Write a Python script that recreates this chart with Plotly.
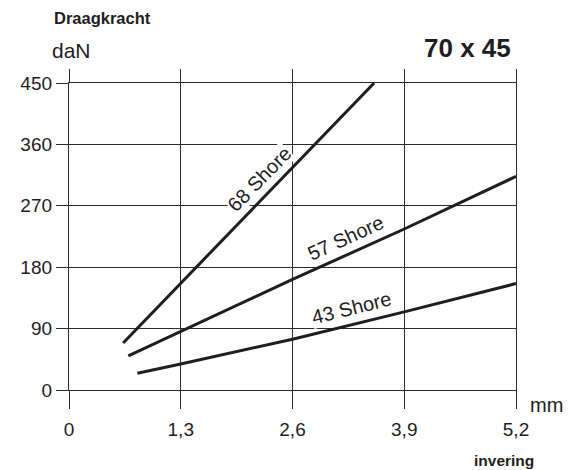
import plotly.graph_objects as go

# ---- data ----
x_ticks = [0, 1.3, 2.6, 3.9, 5.2]
x_tick_labels = ["0", "1,3", "2,6", "3,9", "5,2"]
y_ticks = [0, 90, 180, 270, 360, 450]
y_tick_labels = ["0", "90", "180", "270", "360", "450"]

shore68_x = [0.63, 3.55]
shore68_y = [69, 450]
shore57_x = [0.69, 1.3, 2.6, 3.9, 5.2]
shore57_y = [50, 86, 162, 236, 313]
shore43_x = [0.795, 1.3, 2.6, 3.9, 5.2]
shore43_y = [24.5, 38, 74.5, 114.5, 156]

series = [
    ("68 Shore", shore68_x, shore68_y),
    ("57 Shore", shore57_x, shore57_y),
    ("43 Shore", shore43_x, shore43_y),
]
# label positions (data coords) and angles
label_pos = {"68 Shore": (2.217, 309, -45.7),
             "57 Shore": (3.214, 223, -24.6),
             "43 Shore": (3.285, 120, -14)}

FONT = "Liberation Sans, Arial, sans-serif"
INK = "#1e1e1e"
GRID = "#2a2a2a"

fig = go.Figure()
for name, xs, ys in series:
    fig.add_trace(go.Scatter(x=xs, y=ys, mode="lines", name=name,
                             line=dict(color=INK, width=3), showlegend=False,
                             hoverinfo="skip"))
# invisible trace to activate top axis
fig.add_trace(go.Scatter(x=[0, 5.2], y=[0, 0], xaxis="x2", mode="markers",
                         marker=dict(opacity=0), showlegend=False, hoverinfo="skip"))

for name, (lx, ly, ang) in label_pos.items():
    fig.add_annotation(x=lx, y=ly, xref="x", yref="y", text=name, showarrow=False,
                       textangle=ang, font=dict(family=FONT, size=20, color=INK),
                       bgcolor="white", borderpad=0, xanchor="center", yanchor="middle")

# page body has an 8px margin -> plot area at screen x 65..516, y 83..390
PX0, PX1, PY0, PY1 = 65, 516, 83, 390
def px(x):
    return (x - PX0) / (PX1 - PX0)
def py(y):
    return (PY1 - y) / (PY1 - PY0)

fig.add_annotation(x=px(99), y=py(18), xref="paper", yref="paper",
                   text="<b>Draagkracht</b>", showarrow=False,
                   font=dict(family=FONT, size=16.5, color=INK),
                   xanchor="center", yanchor="middle")
fig.add_annotation(x=px(67.5), y=py(50.5), xref="paper", yref="paper",
                   text="daN", showarrow=False,
                   font=dict(family=FONT, size=21, color=INK),
                   xanchor="center", yanchor="middle")
fig.add_annotation(x=px(466.7), y=py(47.8), xref="paper", yref="paper",
                   text="<b>70 x 45</b>", showarrow=False,
                   font=dict(family=FONT, size=26, color=INK),
                   xanchor="center", yanchor="middle")
fig.add_annotation(x=px(547), y=py(404.5), xref="paper", yref="paper",
                   text="mm", showarrow=False,
                   font=dict(family=FONT, size=20, color=INK),
                   xanchor="center", yanchor="middle")
fig.add_annotation(x=px(504), y=py(460), xref="paper", yref="paper",
                   text="<b>invering</b>", showarrow=False,
                   font=dict(family=FONT, size=15.5, color=INK),
                   xanchor="center", yanchor="middle")

fig.update_layout(
    width=572, height=462,
    margin=dict(l=57, r=64, t=75, b=80),
    paper_bgcolor="white", plot_bgcolor="white",
    font=dict(family=FONT, size=19, color=INK),
    xaxis=dict(range=[0, 5.2], tickvals=x_ticks, ticktext=x_tick_labels,
               showgrid=True, gridcolor=GRID, gridwidth=1.3,
               showline=True, linecolor=GRID, linewidth=1.3, mirror=True,
               ticks="outside", ticklen=18, tickcolor=GRID, tickwidth=1.3,
               ticklabelstandoff=4, zeroline=False,
               tickfont=dict(family=FONT, size=19, color=INK), fixedrange=True),
    xaxis2=dict(range=[0, 5.2], overlaying="x", side="top", matches="x",
                tickvals=x_ticks, showticklabels=False, showgrid=False,
                ticks="outside", ticklen=13, tickcolor=GRID, tickwidth=1.3,
                showline=False, zeroline=False),
    yaxis=dict(range=[0, 450], tickvals=y_ticks, ticktext=y_tick_labels,
               showgrid=True, gridcolor=GRID, gridwidth=1.3,
               showline=True, linecolor=GRID, linewidth=1.3, mirror=True,
               ticks="outside", ticklen=12, tickcolor=GRID, tickwidth=1.3,
               zeroline=False, tickfont=dict(family=FONT, size=19, color=INK),
               fixedrange=True),
)

fig.write_html("out.html")
